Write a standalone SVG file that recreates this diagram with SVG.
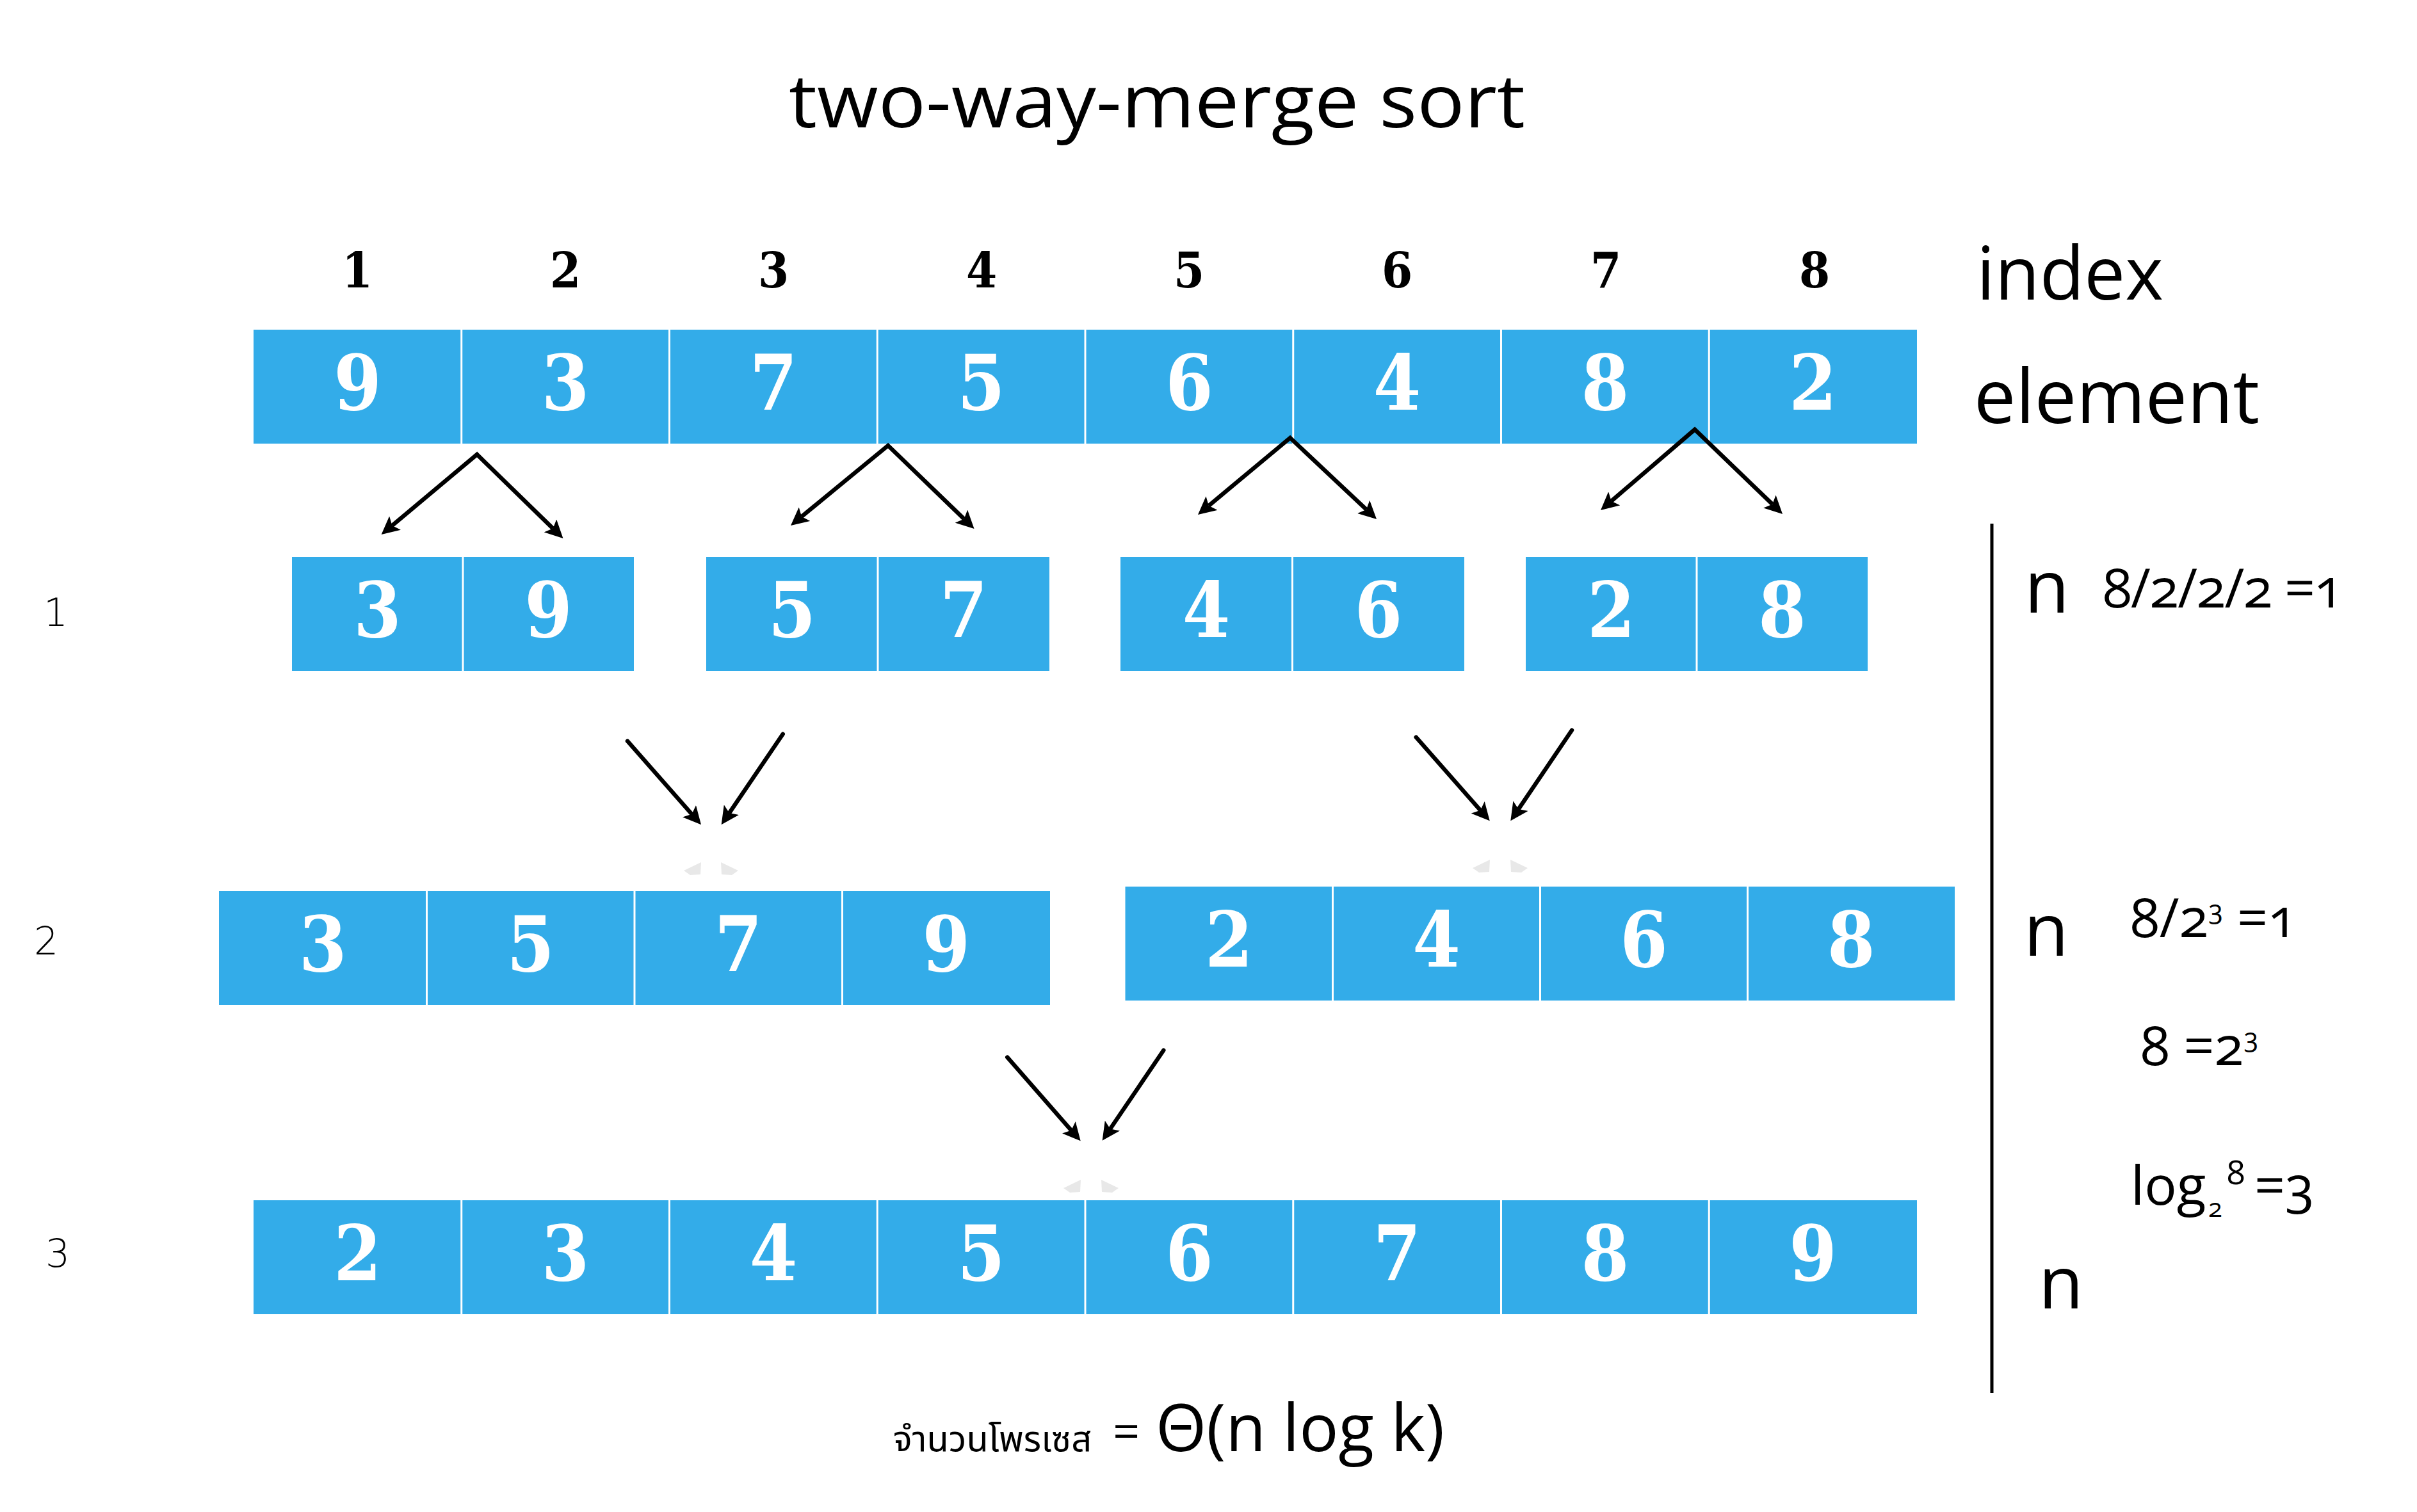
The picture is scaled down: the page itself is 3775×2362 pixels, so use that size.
<svg xmlns="http://www.w3.org/2000/svg" xmlns:xlink="http://www.w3.org/1999/xlink" width="3775" height="2362" viewBox="0 0 3775 2362">
<defs>
<style>
.bg{fill:#ffffff}
.box{fill:#33ACE9}
.div{stroke:#ffffff;stroke-width:3}
.num{font-family:"DejaVu Serif","Liberation Serif",serif;font-weight:bold;font-stretch:condensed;font-size:119px;fill:#ffffff;text-anchor:middle}
.idx{font-family:"DejaVu Serif","Liberation Serif",serif;font-weight:bold;font-stretch:condensed;font-size:77px;fill:#000000;text-anchor:middle}
.lbl{font-family:"Open Sans","Noto Sans",sans-serif;fill:#000000}
.math{font-family:"Open Sans","Noto Sans",sans-serif;fill:#000000;font-size:84px;font-variant-numeric:oldstyle-nums}
.row{font-family:"DejaVu Sans","Liberation Sans",sans-serif;font-weight:200;font-size:60px;fill:#000000;text-anchor:middle}
.thai{font-family:"Noto Sans Thai","Noto Sans Thai Looped","Loma","Garuda","Noto Sans",sans-serif}
.arr{fill:none;stroke:#000000;stroke-width:6.5}
.split{stroke-linecap:butt;stroke-linejoin:miter;stroke-miterlimit:10}
.merge{stroke-linecap:round}
.ghost{fill:#e8e8e8}
</style>
<marker id="head" markerUnits="userSpaceOnUse" viewBox="0 0 28 28" markerWidth="28" markerHeight="28" refX="6" refY="14" orient="auto-start-reverse">
<path d="M0,0 L28,14 L0,28 L6,14 Z" fill="#000000"/>
</marker>
<path id="ghostL" d="M27,0 L0,13 L10,20 L26,19 Z"/>
<path id="ghostR" d="M0,0 L27,13 L17,20 L1,19 Z"/>
</defs>
<rect class="bg" x="0" y="0" width="3775" height="2362"/>

<g id="title">
<text class="lbl" x="1232" y="199" font-size="116" textLength="1150" lengthAdjust="spacingAndGlyphs">two-way-merge sort</text>
</g>

<g id="index-labels">
<text class="idx" x="558" y="449">1</text>
<text class="idx" x="883" y="449">2</text>
<text class="idx" x="1208" y="449">3</text>
<text class="idx" x="1533" y="449">4</text>
<text class="idx" x="1857" y="449">5</text>
<text class="idx" x="2182" y="449">6</text>
<text class="idx" x="2508" y="449">7</text>
<text class="idx" x="2834" y="449">8</text>
<text class="lbl" x="3087" y="468" font-size="116" textLength="292" lengthAdjust="spacingAndGlyphs">index</text>
<text class="lbl" x="3083" y="661" font-size="118" textLength="446" lengthAdjust="spacingAndGlyphs">element</text>
</g>

<g id="row-labels">
<text class="row" x="87" y="978">1</text>
<text class="row" x="72" y="1491">2</text>
<text class="row" x="90" y="1979">3</text>
</g>

<g id="array-initial">
<rect class="box" x="396" y="515" width="2598" height="178"/>
<line class="div" x1="720.75" y1="515" x2="720.75" y2="693"/>
<line class="div" x1="1045.5" y1="515" x2="1045.5" y2="693"/>
<line class="div" x1="1370.25" y1="515" x2="1370.25" y2="693"/>
<line class="div" x1="1695" y1="515" x2="1695" y2="693"/>
<line class="div" x1="2019.75" y1="515" x2="2019.75" y2="693"/>
<line class="div" x1="2344.5" y1="515" x2="2344.5" y2="693"/>
<line class="div" x1="2669.25" y1="515" x2="2669.25" y2="693"/>
<text class="num" x="558.4" y="640">9</text>
<text class="num" x="883.1" y="640">3</text>
<text class="num" x="1207.9" y="640">7</text>
<text class="num" x="1532.6" y="640">5</text>
<text class="num" x="1857.4" y="640">6</text>
<text class="num" x="2182.1" y="640">4</text>
<text class="num" x="2506.9" y="640">8</text>
<text class="num" x="2831.6" y="640">2</text>
</g>

<g id="pair-1">
<rect class="box" x="456" y="870" width="534" height="178"/>
<line class="div" x1="723" y1="870" x2="723" y2="1048"/>
<text class="num" x="589.5" y="995">3</text>
<text class="num" x="856.5" y="995">9</text>
</g>
<g id="pair-2">
<rect class="box" x="1103" y="870" width="536" height="178"/>
<line class="div" x1="1371" y1="870" x2="1371" y2="1048"/>
<text class="num" x="1237" y="995">5</text>
<text class="num" x="1505" y="995">7</text>
</g>
<g id="pair-3">
<rect class="box" x="1750" y="870" width="537" height="178"/>
<line class="div" x1="2018.5" y1="870" x2="2018.5" y2="1048"/>
<text class="num" x="1884" y="995">4</text>
<text class="num" x="2153" y="995">6</text>
</g>
<g id="pair-4">
<rect class="box" x="2383" y="870" width="534" height="178"/>
<line class="div" x1="2650" y1="870" x2="2650" y2="1048"/>
<text class="num" x="2516.5" y="995">2</text>
<text class="num" x="2783.5" y="995">8</text>
</g>

<g id="quad-1">
<rect class="box" x="342" y="1392" width="1298" height="178"/>
<line class="div" x1="666.5" y1="1392" x2="666.5" y2="1570"/>
<line class="div" x1="991" y1="1392" x2="991" y2="1570"/>
<line class="div" x1="1315.5" y1="1392" x2="1315.5" y2="1570"/>
<text class="num" x="504.25" y="1517">3</text>
<text class="num" x="828.75" y="1517">5</text>
<text class="num" x="1153.25" y="1517">7</text>
<text class="num" x="1477.75" y="1517">9</text>
</g>
<g id="quad-2">
<rect class="box" x="1757.5" y="1385" width="1295.5" height="178"/>
<line class="div" x1="2081.5" y1="1385" x2="2081.5" y2="1563"/>
<line class="div" x1="2405.5" y1="1385" x2="2405.5" y2="1563"/>
<line class="div" x1="2729.5" y1="1385" x2="2729.5" y2="1563"/>
<text class="num" x="1919.5" y="1510">2</text>
<text class="num" x="2243.5" y="1510">4</text>
<text class="num" x="2567.5" y="1510">6</text>
<text class="num" x="2891.3" y="1510">8</text>
</g>

<g id="array-sorted">
<rect class="box" x="396" y="1875" width="2598" height="178"/>
<line class="div" x1="720.75" y1="1875" x2="720.75" y2="2053"/>
<line class="div" x1="1045.5" y1="1875" x2="1045.5" y2="2053"/>
<line class="div" x1="1370.25" y1="1875" x2="1370.25" y2="2053"/>
<line class="div" x1="1695" y1="1875" x2="1695" y2="2053"/>
<line class="div" x1="2019.75" y1="1875" x2="2019.75" y2="2053"/>
<line class="div" x1="2344.5" y1="1875" x2="2344.5" y2="2053"/>
<line class="div" x1="2669.25" y1="1875" x2="2669.25" y2="2053"/>
<text class="num" x="558.4" y="2000">2</text>
<text class="num" x="883.1" y="2000">3</text>
<text class="num" x="1207.9" y="2000">4</text>
<text class="num" x="1532.6" y="2000">5</text>
<text class="num" x="1857.4" y="2000">6</text>
<text class="num" x="2182.1" y="2000">7</text>
<text class="num" x="2506.9" y="2000">8</text>
<text class="num" x="2831.6" y="2000">9</text>
</g>

<g id="connectors">
<path class="arr split" d="M612.5,820.9 L745,710 L863.7,825.6" marker-start="url(#head)" marker-end="url(#head)"/>
<path class="arr split" d="M1252,807 L1387,696 L1505.7,810.7" marker-start="url(#head)" marker-end="url(#head)"/>
<path class="arr split" d="M1887.9,789.9 L2015,684 L2134,795.9" marker-start="url(#head)" marker-end="url(#head)"/>
<path class="arr split" d="M2516.7,782.7 L2647,671 L2768.2,787.7" marker-start="url(#head)" marker-end="url(#head)"/>
<path class="arr merge" d="M980,1157.7 L1080.5,1271.8" marker-end="url(#head)"/>
<path class="arr merge" d="M1222.7,1146.7 L1139,1270.1" marker-end="url(#head)"/>
<path class="arr merge" d="M2211.7,1151.7 L2312.2,1265.8" marker-end="url(#head)"/>
<path class="arr merge" d="M2455,1140.7 L2371.6,1264.1" marker-end="url(#head)"/>
<path class="arr merge" d="M1573.3,1651.7 L1673.2,1765.8" marker-end="url(#head)"/>
<path class="arr merge" d="M1817.3,1640.7 L1734,1763.5" marker-end="url(#head)"/>
<g id="ghosts" class="ghost">
<use xlink:href="#ghostL" x="1068" y="1347"/>
<use xlink:href="#ghostR" x="1126" y="1347"/>
<use xlink:href="#ghostL" x="2300" y="1343"/>
<use xlink:href="#ghostR" x="2359" y="1343"/>
<use xlink:href="#ghostL" x="1661" y="1843"/>
<use xlink:href="#ghostR" x="1720" y="1843"/>
</g>
</g>

<g id="complexity">
<line x1="3111" y1="818" x2="3111" y2="2176" stroke="#000000" stroke-width="5"/>
<text class="lbl" x="3162" y="957" font-size="114">n</text>
<text class="lbl" x="3161" y="1493" font-size="114">n</text>
<text class="lbl" x="3184" y="2044" font-size="114">n</text>
<text class="math" x="3284" y="949" textLength="376" lengthAdjust="spacing">8/2/2/2 =1</text>
<text class="math" x="3327" y="1464">8/2<tspan font-size="42" dy="-28" font-variant-numeric="lining-nums">3</tspan><tspan dy="28"> =1</tspan></text>
<text class="math" x="3343" y="1664">8 =2<tspan font-size="42" dy="-28" font-variant-numeric="lining-nums">3</tspan></text>
<text class="math" x="3328" y="1881.6">log<tspan x="3449" y="1901" font-size="40" font-variant-numeric="lining-nums">2</tspan><tspan x="3478" y="1850" font-size="52">8</tspan><tspan x="3521" y="1881.6">=3</tspan></text>
</g>

<g id="footer">
<text class="lbl" x="1395" y="2267"><tspan class="thai" font-size="56">จำนวนโพรเซส</tspan><tspan x="1738" y="2262" font-size="74">=</tspan><tspan x="1805" y="2267" font-size="102">Θ(n log k)</tspan></text>
</g>
</svg>
